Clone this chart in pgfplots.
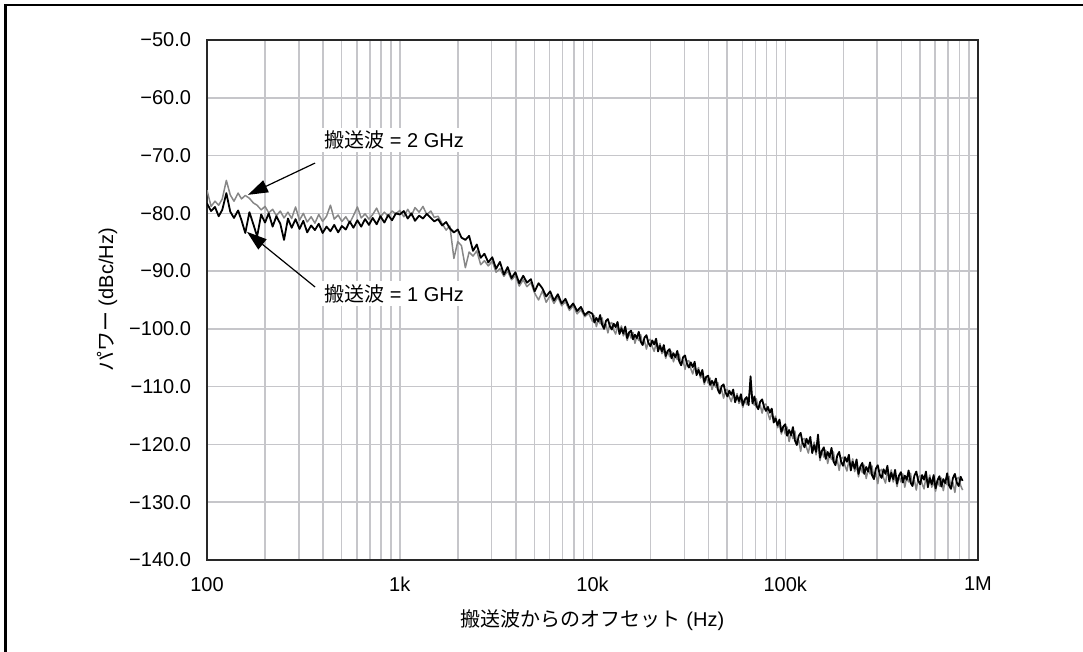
\documentclass[border=0pt]{standalone}
\usepackage{fontspec}
\setmainfont{Liberation Sans}
\newfontfamily\jp{Noto Sans CJK JP}
\usepackage{pgfplots}
\usepackage{pgfplotstable}
\pgfplotsset{compat=1.18}
\usetikzlibrary{arrows.meta}
\definecolor{gridgray}{RGB}{198,198,202}
\definecolor{axisdark}{RGB}{40,40,40}
\definecolor{trace2}{RGB}{135,135,135}

\pgfplotstableread{
f g b
100 -76.0 -78.3
105 -78.8 -79.6
110 -77.9 -78.9
115 -78.6 -80.5
120 -77.5 -79.4
126 -74.3 -76.5
132 -76.8 -79.7
138 -77.9 -80.8
145 -76.5 -79.5
151 -77.5 -81.2
158 -76.9 -83.4
166 -77.4 -79.8
174 -78.2 -81.9
182 -78.6 -84.0
191 -79.4 -80.2
200 -78.8 -81.6
209 -79.9 -80.0
219 -79.3 -82.3
229 -80.4 -80.5
240 -79.6 -81.8
251 -80.8 -84.6
263 -79.8 -80.9
275 -80.9 -82.5
288 -78.9 -81.0
302 -81.2 -82.7
316 -80.0 -81.3
331 -81.5 -83.3
347 -80.6 -82.1
363 -81.7 -82.9
380 -80.2 -81.8
398 -81.4 -83.4
417 -80.5 -82.3
437 -78.6 -83.1
457 -81.0 -82.0
479 -80.3 -83.3
501 -81.4 -82.2
525 -80.6 -82.8
550 -81.7 -81.4
575 -80.4 -82.5
603 -78.9 -81.2
631 -80.8 -82.3
661 -80.1 -81.0
692 -81.0 -82.0
724 -80.2 -80.8
759 -79.1 -81.9
794 -80.6 -80.5
832 -79.8 -81.6
871 -80.5 -80.3
912 -79.6 -81.2
955 -80.1 -80.0
1000 -79.5 -80.2
1050 -80.6 -79.6
1100 -79.3 -80.9
1150 -80.4 -80.0
1200 -79.0 -81.3
1260 -79.8 -80.4
1320 -78.8 -80.9
1380 -80.2 -80.1
1450 -79.6 -80.8
1510 -80.7 -81.4
1580 -80.5 -81.0
1660 -81.8 -82.1
1740 -82.9 -81.5
1820 -82.2 -82.6
1910 -87.8 -83.3
2000 -84.9 -82.8
2090 -85.6 -84.2
2190 -89.4 -84.6
2290 -86.7 -83.9
2400 -87.4 -86.5
2510 -86.5 -85.4
2630 -88.9 -87.7
2750 -88.2 -87.0
2880 -89.1 -88.5
3020 -88.3 -87.6
3160 -90.2 -89.6
3310 -89.6 -88.4
3470 -90.9 -90.6
3630 -90.0 -89.3
3800 -91.5 -91.2
3980 -90.8 -90.2
4170 -92.6 -92.1
4370 -91.5 -90.8
4570 -92.7 -92.0
4790 -92.0 -91.4
5010 -93.8 -93.5
5250 -95.0 -92.1
5500 -93.4 -93.0
5750 -95.4 -94.4
6030 -94.2 -93.5
6310 -95.6 -95.1
6610 -94.5 -94.0
6920 -96.0 -95.6
7240 -95.3 -94.8
7590 -96.8 -96.4
7940 -96.0 -95.6
8320 -97.4 -96.9
8710 -96.7 -96.2
9120 -97.9 -97.6
9550 -97.3 -97.0
10000 -98.7 -97.4
10230 -97.7 -98.9
10470 -99.6 -98.1
10720 -98.4 -98.7
10960 -99.1 -97.6
11220 -98.1 -99.3
11480 -99.9 -100.0
11750 -99.2 -98.6
12020 -100.7 -98.3
12300 -99.1 -99.5
12590 -98.9 -100.1
12880 -100.2 -99.1
13180 -100.9 -99.7
13490 -99.6 -98.8
13800 -100.4 -100.9
14130 -99.5 -99.9
14450 -101.2 -100.8
14790 -100.6 -99.6
15140 -102.0 -101.6
15490 -100.6 -100.6
15850 -101.6 -100.3
16220 -100.6 -101.8
16600 -102.5 -101.0
16980 -101.3 -101.6
17380 -102.0 -100.5
17780 -101.0 -102.2
18200 -102.7 -102.8
18620 -102.1 -101.5
19050 -103.5 -101.1
19500 -102.0 -102.4
19950 -101.8 -103.0
20420 -103.1 -102.0
20890 -103.9 -102.7
21380 -102.5 -101.7
21880 -103.4 -103.9
22390 -102.5 -102.9
22910 -104.3 -103.9
23440 -103.6 -102.8
23990 -105.1 -104.7
24550 -103.8 -103.8
25120 -104.8 -103.5
25700 -103.9 -105.1
26300 -105.7 -104.2
26920 -104.6 -104.9
27540 -105.3 -103.8
28180 -104.4 -105.6
28840 -106.2 -106.3
29510 -105.5 -104.9
30200 -107.0 -104.6
30900 -105.6 -106.0
31620 -105.5 -106.7
32360 -106.9 -105.8
33110 -107.8 -106.6
33880 -106.5 -105.7
34670 -107.5 -108.0
35480 -106.7 -107.1
36310 -108.5 -108.1
37150 -108.0 -107.1
38020 -109.6 -109.2
38900 -108.3 -108.3
39810 -109.4 -108.1
40740 -108.5 -109.7
41690 -110.5 -109.0
42660 -109.4 -109.7
43650 -110.1 -108.6
44670 -109.3 -110.5
45710 -111.1 -111.2
46770 -110.5 -109.9
47860 -112.0 -109.6
48980 -110.6 -111.0
50120 -110.5 -111.7
51290 -111.8 -110.7
52480 -112.6 -111.4
53700 -111.3 -110.5
54950 -112.2 -112.7
56230 -111.2 -111.6
57540 -112.9 -112.5
58880 -112.2 -111.3
60260 -113.6 -113.2
61660 -112.2 -112.2
63100 -113.1 -111.8
64570 -112.0 -113.2
66070 -110.0 -108.2
67610 -112.6 -112.9
69180 -113.2 -111.7
70790 -112.1 -113.3
72440 -113.8 -113.9
74130 -113.2 -112.6
75860 -114.6 -112.2
77620 -113.1 -113.5
79430 -113.0 -114.2
81280 -114.6 -113.5
83180 -115.7 -114.5
85110 -114.6 -113.8
87100 -115.7 -116.2
89130 -115.1 -115.5
91200 -117.1 -116.7
93330 -116.6 -115.7
95500 -118.2 -117.8
97720 -116.9 -116.9
100000 -118.2 -116.5
102300 -117.0 -118.5
104700 -119.5 -117.5
107200 -118.0 -118.4
109600 -119.0 -117.0
112200 -117.7 -119.3
114800 -120.0 -120.1
117500 -119.3 -118.5
120200 -121.2 -118.0
123000 -119.1 -119.7
125900 -119.0 -120.5
128800 -120.5 -119.0
131800 -121.5 -119.9
134900 -119.7 -118.7
138000 -120.8 -121.5
141300 -119.6 -120.1
144500 -121.8 -121.3
147900 -119.5 -118.3
151400 -122.8 -122.3
154900 -121.1 -121.1
158500 -122.2 -120.5
162200 -121.0 -122.5
166000 -123.3 -121.3
169800 -121.8 -122.2
173800 -122.6 -120.6
177800 -121.3 -122.9
182000 -123.5 -123.6
186200 -122.7 -121.9
190500 -124.5 -121.3
195000 -122.4 -123.0
199500 -122.2 -123.7
204200 -123.7 -122.2
208900 -124.6 -123.0
213800 -122.8 -121.8
218800 -123.8 -124.5
223900 -122.5 -123.0
229100 -124.7 -124.2
234400 -123.7 -122.6
239900 -125.6 -125.1
245500 -123.8 -123.8
251200 -124.9 -123.2
257000 -123.6 -125.1
263000 -125.9 -123.9
269200 -124.3 -124.7
275400 -125.1 -123.1
281800 -123.7 -125.3
288400 -125.9 -126.0
295100 -125.0 -124.2
302000 -126.8 -123.6
309000 -124.6 -125.2
316200 -124.3 -125.8
323600 -125.8 -124.3
331100 -126.7 -125.1
338800 -124.7 -123.7
346700 -125.7 -126.4
354800 -124.4 -124.9
363100 -126.5 -126.0
371500 -125.5 -124.4
380200 -127.3 -126.8
389000 -125.4 -125.4
398100 -126.5 -124.8
407400 -125.1 -126.6
416900 -127.4 -125.4
426600 -125.7 -126.1
436500 -126.5 -124.5
446700 -125.0 -126.6
457100 -127.1 -127.2
467700 -126.2 -125.4
478600 -127.9 -124.7
489800 -125.7 -126.3
501200 -125.4 -126.9
512900 -126.8 -125.3
524800 -127.7 -126.1
537000 -125.7 -124.7
549500 -126.7 -127.4
562300 -125.3 -125.8
575400 -127.4 -126.9
588800 -126.4 -125.3
602600 -128.1 -127.6
616600 -126.2 -126.2
631000 -127.2 -125.5
645700 -125.8 -127.3
660700 -128.0 -126.0
676100 -126.3 -126.7
691800 -127.0 -125.0
707900 -125.5 -127.1
724400 -127.6 -127.7
741300 -126.6 -125.8
758600 -128.3 -125.1
776200 -126.0 -126.6
794300 -125.7 -127.2
812800 -127.1 -125.6
831800 -127.9 -126.3
}\noisedata

\begin{document}
\begin{tikzpicture}[x=1pt,y=1pt]
\useasboundingbox (0,0) rectangle (541.5,326);
\draw[line width=1.3pt, line cap=rect] (2.7,0) -- (2.7,323.4) -- (541.5,323.4);
\begin{axis}[
  at={(103.5pt,46pt)}, anchor=south west,
  scale only axis, width=385.5pt, height=260pt,
  xmode=log, xmin=100, xmax=1000000,
  ymin=-140, ymax=-50,
  xtick={100,1000,10000,100000,1000000},
  xticklabels={100,1k,10k,100k,1M},
  ytick={-140,-130,-120,-110,-100,-90,-80,-70,-60,-50},
  yticklabels={−140.0,−130.0,−120.0,−110.0,−100.0,−90.0,−80.0,−70.0,−60.0,−50.0},
  xmajorgrids, xminorgrids, ymajorgrids,
  major grid style={draw=gridgray, line width=0.75pt},
  minor grid style={draw=gridgray, line width=0.75pt},
  major tick length=0pt, minor tick length=0pt,
  tick style={draw=none},
  axis line style={draw=axisdark, line width=0.85pt},
  tick label style={font=\fontsize{10}{12}\selectfont},
  yticklabel style={xshift=-4.5pt},
  xticklabel style={yshift=-5pt},
  xlabel={{\jp 搬送波からのオフセット} (Hz)},
  ylabel={{\jp パワー} (dBc/Hz)},
  label style={font=\fontsize{10}{12}\selectfont},
  xlabel style={at={(axis description cs:0.5,-0.1154)}, anchor=center},
  ylabel style={at={(axis description cs:-0.1297,0.5)}, anchor=center},
  clip=true,
]
\addplot[color=trace2, line width=0.75pt, mark=none, line join=round] table[x=f,y=g]{\noisedata};
\addplot[color=black, line width=0.9pt, mark=none, line join=round] table[x=f,y=b]{\noisedata};
\node[anchor=west, fill=white, inner sep=1.5pt, font=\fontsize{10}{12}\selectfont] at (axis cs:390,-67.3) {{\jp 搬送波} = 2 GHz};
\node[anchor=west, fill=white, inner sep=1.5pt, font=\fontsize{10}{12}\selectfont] at (axis cs:390,-93.9) {{\jp 搬送波} = 1 GHz};
\draw[line width=0.6pt, -{Triangle[length=10pt,width=6.5pt]}] (axis cs:363.6,-71.3) -- (axis cs:163.1,-76.8);
\draw[line width=0.6pt, -{Triangle[length=10pt,width=6.5pt]}] (axis cs:363.6,-92.75) -- (axis cs:161.2,-83.2);
\end{axis}
\end{tikzpicture}
\end{document}
